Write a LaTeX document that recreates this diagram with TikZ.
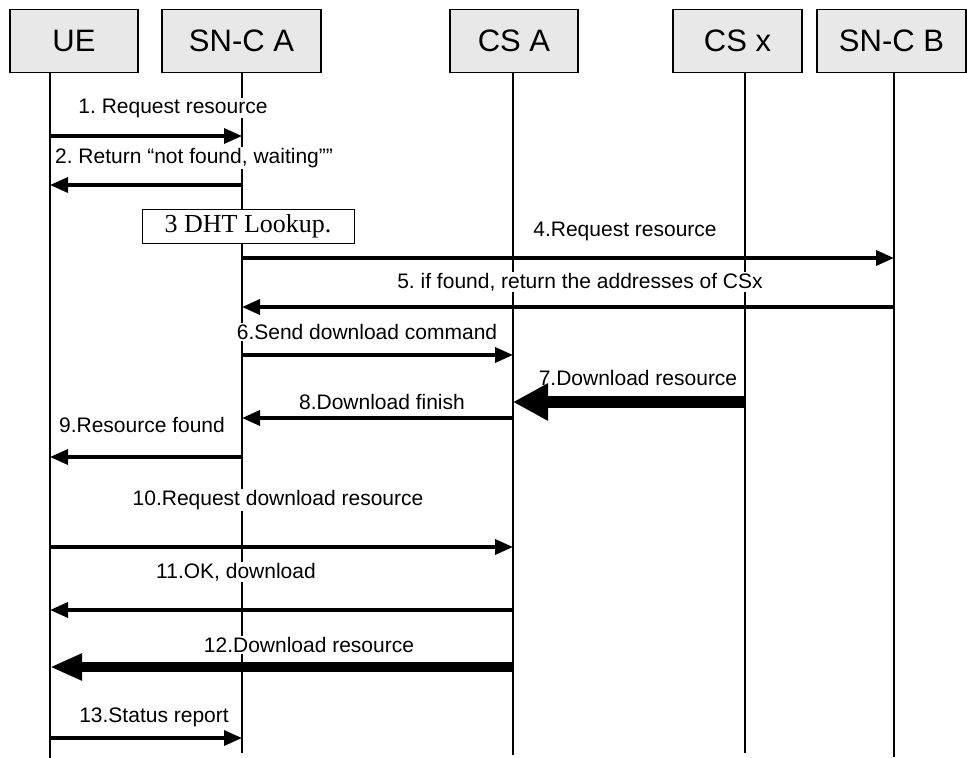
\documentclass[tikz,border=0pt]{standalone}
\usepackage{fontspec}
\setmainfont{Liberation Sans}
\newfontfamily\serifface{Liberation Serif}
\usetikzlibrary{arrows.meta}
\frenchspacing

\begin{document}
\begin{tikzpicture}[x=1pt,y=-1pt,
  actor/.style={draw=black, line width=1.1pt, fill=gray!18, minimum height=63pt,
    inner sep=0pt, font=\fontsize{31}{34}\selectfont},
  lifeline/.style={line width=1.1pt},
  msglabel/.style={fill=white, inner sep=1pt, font=\fontsize{21}{24}\selectfont},
  msg/.style={line width=3.4pt, -{Triangle[length=18pt,width=15pt]}},
  bulkmsg/.style={line width=12pt, -{Triangle[length=35pt,width=35pt]}},
  bulkmsgsmall/.style={line width=10pt, -{Triangle[length=32pt,width=25pt]}},
  stepnote/.style={draw=black, line width=1pt, fill=white, inner sep=0pt,
    font=\serifface\fontsize{26}{28}\selectfont}]

\useasboundingbox (0,0) rectangle (967,758);

% participants
\node[actor, minimum width=128pt] (ue)  at (74,41)    {UE};
\node[actor, minimum width=159pt] (sna) at (241.5,41) {SN-C A};
\node[actor, minimum width=128pt] (csa) at (514,41)   {CS A};
\node[actor, minimum width=129pt] (csx) at (737.5,41) {CS x};
\node[actor, minimum width=149pt] (snb) at (891.5,41) {SN-C B};

% lifelines
\coordinate (ueT)  at (50,73);  \coordinate (ueB)  at (50,758);
\coordinate (snaT) at (242,73); \coordinate (snaB) at (242,753);
\coordinate (csaT) at (513,73); \coordinate (csaB) at (513,755);
\coordinate (csxT) at (745,73); \coordinate (csxB) at (745,753);
\coordinate (snbT) at (894,73); \coordinate (snbB) at (894,757);
\draw[lifeline] (ueT) -- (ueB);
\draw[lifeline] (snaT) -- (snaB);
\draw[lifeline] (csaT) -- (csaB);
\draw[lifeline] (csxT) -- (csxB);
\draw[lifeline] (snbT) -- (snbB);

% message rows
\coordinate (r1) at (0,136);
\coordinate (r2) at (0,185);
\coordinate (r4) at (0,258);
\coordinate (r5) at (0,307);
\coordinate (r6) at (0,355);
\coordinate (r7) at (0,402);
\coordinate (r8) at (0,418);
\coordinate (r9) at (0,457);
\coordinate (r10) at (0,547);
\coordinate (r11) at (0,610);
\coordinate (r12) at (0,667);
\coordinate (r13) at (0,738);

% labels
\node[msglabel] (l1)  at (173,108) {1. Request resource};
\node[msglabel] (l2)  at (194,158) {2. Return “not found, waiting”"};
\node[stepnote, minimum width=212pt, minimum height=34pt] (dht) at (248,226) {3 DHT Lookup.};
\node[msglabel] (l4)  at (625,231) {4.Request resource};
\node[msglabel] (l5)  at (580,282) {5. if found, return the addresses of CSx};
\node[msglabel] (l6)  at (367,332) {6.Send download command};
\node[msglabel] (l7)  at (638,378) {7.Download resource};
\node[msglabel] (l8)  at (382,402) {8.Download finish};
\node[msglabel] (l9)  at (142,425) {9.Resource found};
\node[msglabel] (l10) at (278,500) {10.Request download resource};
\node[msglabel] (l11) at (236,572) {11.OK, download};
\node[msglabel] (l12) at (309,645) {12.Download resource};
\node[msglabel] (l13) at (154,717) {13.Status report};

% messages
\draw[msg] (ueT |- r1) -- (snaT |- r1);
\draw[msg] (snaT |- r2) -- (ueT |- r2);
\draw[msg] (snaT |- r4) -- (snbT |- r4);
\draw[msg] (snbT |- r5) -- (snaT |- r5);
\draw[msg] (snaT |- r6) -- (csaT |- r6);
\draw[bulkmsg] (csxT |- r7) -- (csaT |- r7);
\draw[msg] (csaT |- r8) -- (snaT |- r8);
\draw[msg] (snaT |- r9) -- (ueT |- r9);
\draw[msg] (ueT |- r10) -- (csaT |- r10);
\draw[msg] (csaT |- r11) -- (ueT |- r11);
\draw[bulkmsgsmall] (csaT |- r12) -- (ueT |- r12);
\draw[msg] (ueT |- r13) -- (snaT |- r13);

\end{tikzpicture}
\end{document}
